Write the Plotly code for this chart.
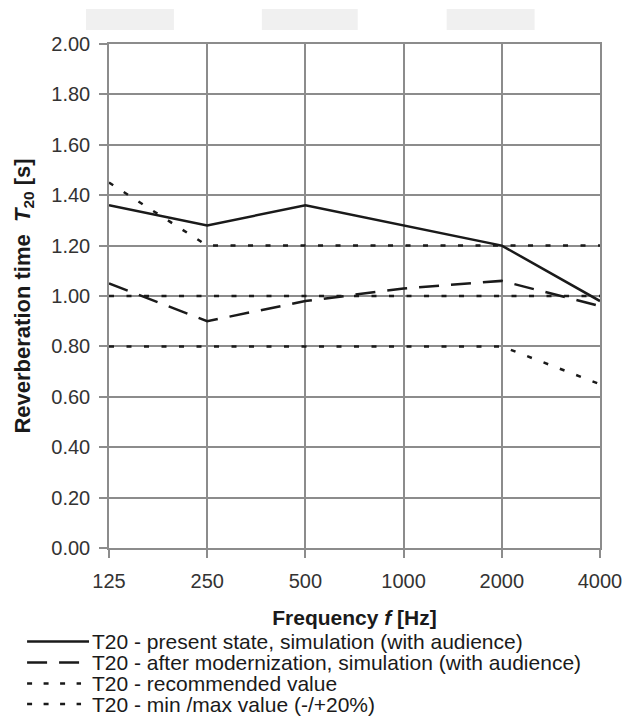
import plotly.graph_objects as go

freqs = ["125", "250", "500", "1000", "2000", "4000"]
present = [1.36, 1.28, 1.36, 1.28, 1.20, 0.98]
modern = [1.05, 0.90, 0.98, 1.03, 1.06, 0.96]
recommended = [1.00, 1.00, 1.00, 1.00, 1.00, 1.00]
max_val = [1.45, 1.20, 1.20, 1.20, 1.20, 1.20]
min_val = [0.80, 0.80, 0.80, 0.80, 0.80, 0.65]
y_ticks = [0.0, 0.2, 0.4, 0.6, 0.8, 1.0, 1.2, 1.4, 1.6, 1.8, 2.0]
legend_names = [
    "T20 - present state, simulation (with audience)",
    "T20 - after modernization, simulation (with audience)",
    "T20 - recommended value",
    "T20 - min /max value (-/+20%)",
]

LC = "#1a1a1a"
GRID = "#8c8c8c"
DOT = "5px,12.5px"
DASH = "20px,12px"
FONT = "Liberation Sans, Arial, sans-serif"

W, H = 625, 716
PL, PR, PT, PB = 109, 600.5, 44, 548
PW, PH = PR - PL, PB - PT


def px(x):
    return (x - PL) / PW


def py(y):
    return (PB - y) / PH


fig = go.Figure()
fig.add_trace(go.Scatter(x=freqs, y=present, mode="lines", name=legend_names[0],
                         line=dict(color=LC, width=2.5)))
fig.add_trace(go.Scatter(x=freqs, y=modern, mode="lines", name=legend_names[1],
                         line=dict(color=LC, width=2.5, dash=DASH)))
fig.add_trace(go.Scatter(x=freqs, y=recommended, mode="lines", name=legend_names[2],
                         line=dict(color=LC, width=2.5, dash=DOT)))
fig.add_trace(go.Scatter(x=freqs, y=max_val, mode="lines", name=legend_names[3],
                         line=dict(color=LC, width=2.5, dash=DOT)))
fig.add_trace(go.Scatter(x=freqs, y=min_val, mode="lines", name=legend_names[3],
                         line=dict(color=LC, width=2.5, dash=DOT)))

shapes = []
for x0, x1 in [(86, 174), (262, 358), (447, 535)]:
    shapes.append(dict(type="rect", xref="paper", yref="paper",
                       x0=px(x0), x1=px(x1), y0=py(30), y1=py(9),
                       fillcolor="#f0f0f0", line=dict(width=0), layer="below"))

# legend drawn below the plot
annotations = []
row_y = [641.5, 662.5, 683.5, 704]
styles = [("solid", 89), (DASH, 80), ("5px,11.5px", 81), ("5px,11.5px", 81)]
for name, yy, (dash, xend) in zip(legend_names, row_y, styles):
    shapes.append(dict(type="line", xref="paper", yref="paper",
                       x0=px(27), x1=px(xend), y0=py(yy), y1=py(yy),
                       line=dict(color=LC, width=2.5, dash=dash)))
    annotations.append(dict(xref="paper", yref="paper", x=px(91), y=py(yy),
                            xanchor="left", yanchor="middle", showarrow=False,
                            borderpad=0,
                            text=name, font=dict(family=FONT, size=21, color=LC)))

fig.update_layout(
    width=W, height=H,
    margin=dict(l=PL, r=W - PR, t=PT, b=H - PB, autoexpand=False),
    paper_bgcolor="white", plot_bgcolor="white",
    font=dict(family=FONT, size=20, color="#333333"),
    shapes=shapes, annotations=annotations,
    showlegend=False,
)
fig.update_xaxes(type="category", range=[0, 5], showgrid=True, gridcolor=GRID,
                 gridwidth=1.5, showline=True, linecolor=GRID, linewidth=1.5,
                 mirror=True, ticks="outside", ticklen=8, tickcolor=GRID,
                 tickwidth=1.5, ticklabelstandoff=6,
                 tickfont=dict(size=20, color="#333333"),
                 title=dict(text="<b>Frequency <i>f</i> [Hz]</b>", standoff=20,
                            font=dict(size=21, color="#1a1a1a")))
fig.update_yaxes(range=[0, 2], tickvals=y_ticks, tickformat=".2f", showgrid=True,
                 gridcolor=GRID, gridwidth=1.5, showline=True, linecolor=GRID,
                 linewidth=1.5, mirror=True, ticks="outside", ticklen=8,
                 tickcolor=GRID, tickwidth=1.5, zeroline=False, ticklabelstandoff=5,
                 tickfont=dict(size=20, color="#333333"),
                 title=dict(text="<b>Reverberation time &nbsp;<i>T</i><sub>20</sub> [s]</b>",
                            standoff=15, font=dict(size=22, color="#1a1a1a")))

fig.write_html("out.html", config={"displayModeBar": False},
               post_script="document.body.style.margin='0';")
